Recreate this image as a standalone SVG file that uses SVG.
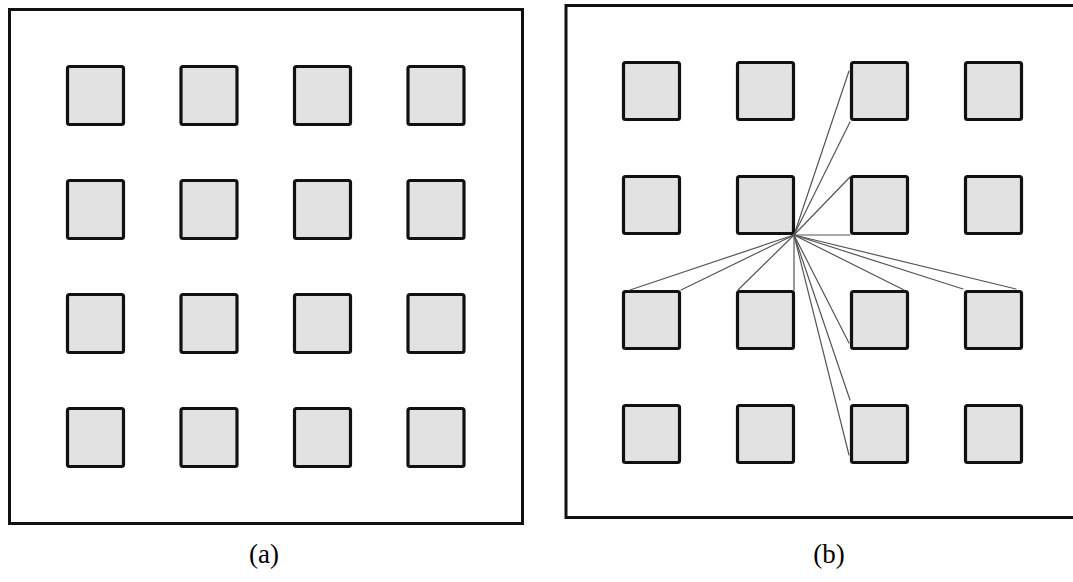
<svg xmlns="http://www.w3.org/2000/svg" width="1073" height="582" viewBox="0 0 1073 582">
  <style>
    .frame { fill: #ffffff; stroke: #111111; stroke-width: 3; }
    .cell { fill: #e2e2e2; stroke: #111111; stroke-width: 3.2; }
    .link { stroke: #555555; stroke-width: 1.2; fill: none; stroke-linecap: round; }
    .caption { font-family: "Liberation Serif", "Times New Roman", serif; font-size: 27px; fill: #000000; text-anchor: middle; }
  </style>
  <defs>
    <rect id="cellA" class="cell" x="0" y="0" width="56" height="58" rx="2"/>
    <rect id="cellB" class="cell" x="0" y="0" width="56" height="57" rx="2"/>
  </defs>
  <rect width="1073" height="582" fill="#ffffff"/>

  <!-- panel (a): 4x4 grid of pads -->
  <g id="panel-a">
    <rect class="frame" x="9.5" y="9.5" width="513" height="514"/>
    <g id="a-r1c1"><use href="#cellA" x="67.5" y="66.5"/></g>
    <g id="a-r1c2"><use href="#cellA" x="181" y="66.5"/></g>
    <g id="a-r1c3"><use href="#cellA" x="294.5" y="66.5"/></g>
    <g id="a-r1c4"><use href="#cellA" x="408" y="66.5"/></g>
    <g id="a-r2c1"><use href="#cellA" x="67.5" y="180.5"/></g>
    <g id="a-r2c2"><use href="#cellA" x="181" y="180.5"/></g>
    <g id="a-r2c3"><use href="#cellA" x="294.5" y="180.5"/></g>
    <g id="a-r2c4"><use href="#cellA" x="408" y="180.5"/></g>
    <g id="a-r3c1"><use href="#cellA" x="67.5" y="294.5"/></g>
    <g id="a-r3c2"><use href="#cellA" x="181" y="294.5"/></g>
    <g id="a-r3c3"><use href="#cellA" x="294.5" y="294.5"/></g>
    <g id="a-r3c4"><use href="#cellA" x="408" y="294.5"/></g>
    <g id="a-r4c1"><use href="#cellA" x="67.5" y="408.5"/></g>
    <g id="a-r4c2"><use href="#cellA" x="181" y="408.5"/></g>
    <g id="a-r4c3"><use href="#cellA" x="294.5" y="408.5"/></g>
    <g id="a-r4c4"><use href="#cellA" x="408" y="408.5"/></g>
  </g>

  <!-- panel (b): same grid, frame runs off the right edge -->
  <g id="panel-b">
    <rect class="frame" x="566" y="5.5" width="520" height="512"/>
    <g id="b-r1c1"><use href="#cellB" x="623.5" y="62.5"/></g>
    <g id="b-r1c2"><use href="#cellB" x="737.5" y="62.5"/></g>
    <g id="b-r1c3"><use href="#cellB" x="851.5" y="62.5"/></g>
    <g id="b-r1c4"><use href="#cellB" x="965.5" y="62.5"/></g>
    <g id="b-r2c1"><use href="#cellB" x="623.5" y="176.5"/></g>
    <g id="b-r2c2"><use href="#cellB" x="737.5" y="176.5"/></g>
    <g id="b-r2c3"><use href="#cellB" x="851.5" y="176.5"/></g>
    <g id="b-r2c4"><use href="#cellB" x="965.5" y="176.5"/></g>
    <g id="b-r3c1"><use href="#cellB" x="623.5" y="291.5"/></g>
    <g id="b-r3c2"><use href="#cellB" x="737.5" y="291.5"/></g>
    <g id="b-r3c3"><use href="#cellB" x="851.5" y="291.5"/></g>
    <g id="b-r3c4"><use href="#cellB" x="965.5" y="291.5"/></g>
    <g id="b-r4c1"><use href="#cellB" x="623.5" y="405.5"/></g>
    <g id="b-r4c2"><use href="#cellB" x="737.5" y="405.5"/></g>
    <g id="b-r4c3"><use href="#cellB" x="851.5" y="405.5"/></g>
    <g id="b-r4c4"><use href="#cellB" x="965.5" y="405.5"/></g>
  </g>

  <!-- rays fanning out from the corner of pad r2c2 -->
  <g id="connectors">
    <line class="link" x1="794" y1="235" x2="849" y2="71"/>
    <line class="link" x1="794" y1="235" x2="850" y2="122"/>
    <line class="link" x1="794" y1="235" x2="850" y2="177"/>
    <line class="link" x1="794" y1="235" x2="850" y2="235"/>
    <line class="link" x1="794" y1="235" x2="630" y2="290"/>
    <line class="link" x1="794" y1="235" x2="681" y2="290"/>
    <line class="link" x1="794" y1="235" x2="738" y2="290"/>
    <line class="link" x1="794" y1="235" x2="794" y2="290"/>
    <line class="link" x1="794" y1="235" x2="904" y2="290"/>
    <line class="link" x1="794" y1="235" x2="849" y2="343"/>
    <line class="link" x1="794" y1="235" x2="963" y2="289"/>
    <line class="link" x1="794" y1="235" x2="1016" y2="289"/>
    <line class="link" x1="794" y1="235" x2="850" y2="400"/>
    <line class="link" x1="794" y1="235" x2="849" y2="455"/>
  </g>

  <g id="captions">
    <text class="caption" x="264" y="563">(a)</text>
    <text class="caption" x="829" y="563">(b)</text>
  </g>
</svg>
